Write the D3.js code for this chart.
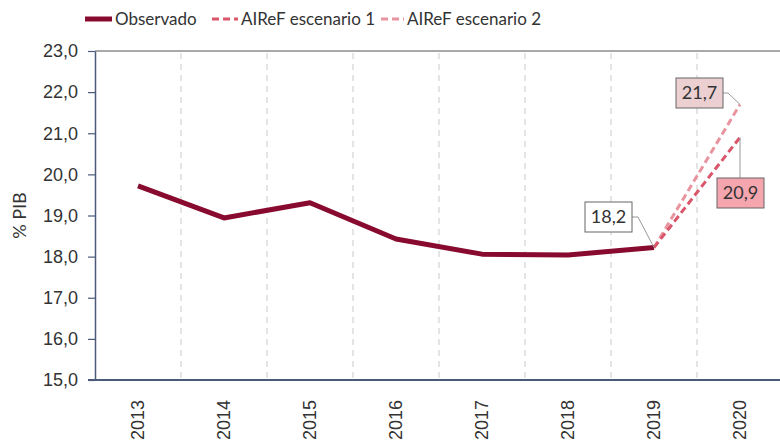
<!DOCTYPE html>
<html>
<head>
<meta charset="utf-8">
<script src="https://d3js.org/d3.v7.min.js"></script>
<style>
  body { margin: 0; background: #fff; }
  svg { font-family: Lato, "Open Sans", sans-serif; }
  .y.axis path { stroke: #4a5a78; stroke-width: 1.5; }
  .y.axis line { stroke: #4a5a78; stroke-width: 1.2; }
  .y.axis text, .x.axis text { fill: #333; font-size: 18px; }
  .x.axis path, .x.axis line { display: none; }
  .grid { stroke: #dcdcdc; stroke-width: 1.5; stroke-dasharray: 6,5; }
  .obs { fill: none; stroke: #880a2e; stroke-width: 5; stroke-linejoin: round; }
  .esc1 { fill: none; stroke: #d9566b; stroke-width: 3; stroke-dasharray: 7,4; }
  .esc2 { fill: none; stroke: #e8949f; stroke-width: 3; stroke-dasharray: 7,4; }
  .legend text { fill: #333; font-size: 17px; }
  .lbl rect { stroke: #666; stroke-width: 1; }
  .lbl text { fill: #333; font-size: 18px; }
  .leader { fill: none; stroke: #999; stroke-width: 1; }
</style>
</head>
<body>
<script>
var years = ["2013", "2014", "2015", "2016", "2017", "2018", "2019", "2020"];
var observado = [19.72, 18.94, 19.31, 18.43, 18.06, 18.04, 18.22];
var escenario1 = [null, null, null, null, null, null, 18.22, 20.9];
var escenario2 = [null, null, null, null, null, null, 18.22, 21.7];
var yTicks = [15, 16, 17, 18, 19, 20, 21, 22, 23];

var svgWidth = 780, svgHeight = 448;
var plotLeft = 95, plotRight = 783, plotTop = 51, plotBottom = 380;

var svg = d3.select("body").append("svg")
    .attr("width", svgWidth)
    .attr("height", svgHeight);

var x = d3.scaleBand().domain(years).range([plotLeft, plotRight]).padding(0);
var y = d3.scaleLinear().domain([15, 23]).range([plotBottom, plotTop]);
var fmt = function (d) { return d3.format(".1f")(d).replace(".", ","); };

// vertical dashed gridlines at category boundaries
svg.append("g").selectAll("line")
    .data(years.slice(1)).enter().append("line")
    .attr("class", "grid")
    .attr("x1", d => x(d)).attr("x2", d => x(d))
    .attr("y1", plotTop + 2).attr("y2", plotBottom);

// top border
svg.append("line")
    .attr("x1", plotLeft).attr("x2", plotRight)
    .attr("y1", plotTop).attr("y2", plotTop)
    .attr("stroke", "#8c8c8c").attr("stroke-width", 1.5);

// y axis
svg.append("g")
    .attr("class", "y axis")
    .attr("transform", "translate(" + plotLeft + ",0)")
    .call(d3.axisLeft(y).tickValues(yTicks).tickFormat(fmt).tickSize(7).tickSizeOuter(0).tickPadding(10));

// bottom axis line
svg.append("line")
    .attr("x1", plotLeft - 7).attr("x2", plotRight)
    .attr("y1", plotBottom).attr("y2", plotBottom)
    .attr("stroke", "#4a5a78").attr("stroke-width", 2);

// x axis labels rotated
svg.append("g")
    .attr("class", "x axis")
    .attr("transform", "translate(0," + plotBottom + ")")
    .call(d3.axisBottom(x).tickSize(0))
    .selectAll("text")
    .attr("transform", "rotate(-90)")
    .attr("text-anchor", "end")
    .attr("x", -20)
    .attr("y", 0)
    .attr("dy", "0.35em");

svg.append("text")
    .attr("transform", "translate(26," + ((plotTop + plotBottom) / 2) + ") rotate(-90)")
    .attr("text-anchor", "middle")
    .attr("fill", "#333")
    .style("font-size", "18px")
    .text("% PIB");

var line = d3.line()
    .defined(d => d != null)
    .x((d, i) => x(years[i]) + x.bandwidth() / 2)
    .y(d => y(d));

svg.append("path").datum(escenario2).attr("class", "esc2").attr("d", line);
svg.append("path").datum(escenario1).attr("class", "esc1").attr("d", line);
svg.append("path").datum(observado).attr("class", "obs").attr("d", line);

// data labels
function cx(i) { return x(years[i]) + x.bandwidth() / 2; }
var labels = [
  { v: observado[6], fill: "#ffffff", bx: 585, by: 202, path: function (bx, by) { return [[bx + 47, by + 15], [bx + 53, by + 15], [cx(6), y(observado[6])]]; } },
  { v: escenario2[7], fill: "#ebcfd1", bx: 676, by: 78, path: function (bx, by) { return [[bx + 47, by + 15], [bx + 52, by + 15], [cx(7), y(escenario2[7])]]; } },
  { v: escenario1[7], fill: "#f4a5ae", bx: 717, by: 178, path: function (bx, by) { return [[cx(7), by], [cx(7), y(escenario1[7])]]; } }
];

labels.forEach(function (l) {
  svg.append("path").attr("class", "leader").attr("d", d3.line()(l.path(l.bx, l.by)));
  var g = svg.append("g").attr("class", "lbl");
  g.append("rect").attr("x", l.bx).attr("y", l.by).attr("width", 47).attr("height", 30).attr("fill", l.fill);
  g.append("text").attr("x", l.bx + 23.5).attr("y", l.by + 15).attr("dy", "0.35em")
    .attr("text-anchor", "middle").text(fmt(l.v));
});

// legend
var legend = [
  { name: "Observado", cls: "obs", x1: 85, x2: 112 },
  { name: "AIReF escenario 1", cls: "esc1", x1: 212, x2: 238 },
  { name: "AIReF escenario 2", cls: "esc2", x1: 381, x2: 404 }
];
var lg = svg.append("g").attr("class", "legend");
legend.forEach(function (d) {
  lg.append("line").attr("class", d.cls)
    .attr("x1", d.x1).attr("x2", d.x2).attr("y1", 19).attr("y2", 19);
  lg.append("text").attr("x", d.x2 + 3).attr("y", 19).attr("dy", "0.35em").text(d.name);
});
</script>
</body>
</html>
